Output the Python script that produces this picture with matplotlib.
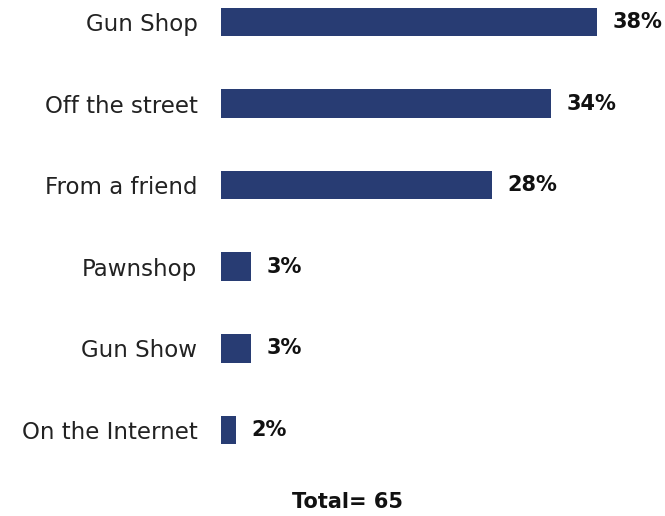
import matplotlib
matplotlib.use("Agg")
import matplotlib.pyplot as plt

# where the gun was obtained, share of respondents (bar lengths) and printed labels
categories = ["Gun Shop", "Off the street", "From a friend", "Pawnshop", "Gun Show", "On the Internet"]
values = [38.5, 33.8, 27.7, 3.1, 3.1, 1.5]
value_labels = ["38%", "34%", "28%", "3%", "3%", "2%"]
total_label = "Total= 65"

BAR_COLOR = "#283c73"
W, H = 665, 516

fig = plt.figure(figsize=(W / 100, H / 100), dpi=100)
ax = fig.add_axes([221 / W, 56 / H, (W - 221) / W, 460 / H])

ypos = list(range(len(categories)))
ax.barh(ypos, values, height=0.35, color=BAR_COLOR)
ax.set_xlim(0, (W - 221) / 9.77)
ax.set_ylim(5.37, -0.27)

for y, v, lab in zip(ypos, values, value_labels):
    ax.annotate(lab, (v, y), xytext=(11, 0), textcoords="offset points",
                ha="left", va="center", fontsize=15, fontweight="bold", color="#111111")

ax.set_yticks(ypos)
ax.set_yticklabels(categories, fontsize=16.5, color="#222222")
ax.tick_params(axis="y", length=0, pad=17)
ax.set_xticks([])
for s in ax.spines.values():
    s.set_visible(False)

fig.text(348 / W, 1 - 502 / H, total_label, ha="center", va="center",
         fontsize=15, fontweight="bold", color="#111111")

fig.savefig("out.png", dpi=100)
plt.close(fig)
